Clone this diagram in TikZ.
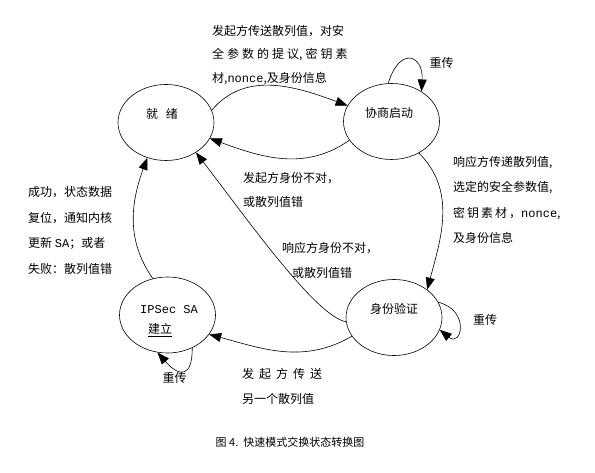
\documentclass[tikz,border=0pt]{standalone}
\usepackage{fontspec}
\setmainfont{Noto Sans CJK SC}
\setmonofont{Liberation Mono}
\usetikzlibrary{arrows.meta,shapes.geometric}
\newcommand{\zgap}[1][3pt]{\hspace{#1}}
\tikzset{
  state/.style    = {draw, ellipse, minimum width=96pt, minimum height=76pt,
                     inner sep=0pt, line width=0.6pt},
  trans/.style    = {-{Triangle[length=12pt,width=9pt]}, line width=0.6pt},
  note/.style     = {font=\fontsize{12}{25.5}\selectfont, align=left,
                     anchor=west, inner sep=0pt},
  statetxt/.style = {font=\fontsize{12}{20}\selectfont, inner sep=0pt},
  retry/.style    = {font=\fontsize{12}{14}\selectfont, inner sep=0pt},
}

\begin{document}
\begin{tikzpicture}[x=1pt,y=1pt]
  \useasboundingbox (0,0) rectangle (595,472);
  \node[state] (ready) at (166,349.5) {};
  \node[state] (nego)  at (391.5,350.5) {};
  \node[state] (auth)  at (394,154.5) {};
  \node[state] (sa)    at (167.5,157) {};
  \node[statetxt] (readytxt) at (162,358) {就\zgap[8pt]绪};
  \node[statetxt] (negotxt)  at (389,359) {协商启动};
  \node[statetxt] (authtxt)  at (394,163) {身份验证};
  \node[statetxt, align=left, anchor=west] (satxt) at (140,151)
    {\texttt{IPSec SA}\\\hspace*{8pt}\underline{建立}};
  \draw[trans] (ready.15) to[out=50, in=160] (nego.160);
  \draw[trans] (nego.204) to[out=215, in=-20] (ready.-20);
  \draw[trans] (nego.95) .. controls +(12,38) and +(2,36) .. (nego.45);
  \draw[trans] (nego.-49) to[out=-45, in=75] (auth.40);
  \draw[trans] (auth.19) .. controls +(32,-8) and +(22,-18) .. (auth.-15);
  \draw[trans] (auth.204) to[out=210, in=-15] (sa.-25);
  \draw[trans] (sa.307) .. controls +(0,-30) and +(22,-25) .. (sa.255);
  \draw[trans] (sa.112) to[out=125, in=250] (ready.242);
  \draw[trans] (auth.185) .. controls +(-30,5) and +(50,-65) .. (ready.-45);
  \node[note, font=\fontsize{12}{23.2}\selectfont] (toptxt) at (212,417)
    {发起方传送散列值，对安\\
     全\zgap 参\zgap 数\zgap 的\zgap 提\zgap 议,\zgap 密\zgap 钥\zgap 素\\
     材,\texttt{nonce},及身份信息};
  \node[note] (righttxt) at (453,272)
    {响应方传递散列值,\\
     选定的安全参数值,\\
     密\zgap[2pt]钥\zgap[2pt]素\zgap[2pt]材\zgap[2pt]，\texttt{nonce},\\
     及身份信息};
  \node[note] (lefttxt) at (28,241.5)
    {成功，状态数据\\
     复位，通知内核\\
     更新 \texttt{SA}；或者\\
     失败：散列值错};
  \node[note, font=\fontsize{12}{24}\selectfont] (initerr) at (243,282)
    {发起方身份不对，\\或散列值错};
  \node[note, font=\fontsize{12}{25}\selectfont] (resperr) at (282,211.5)
    {响应方身份不对，\\\hspace*{10pt}或散列值错};
  \node[note, font=\fontsize{12}{25}\selectfont] (bottxt) at (242,86)
    {发\zgap[5pt]起\zgap[5pt]方\zgap[5pt]传\zgap[5pt]送\\另一个散列值};
  \node[retry] (retrynego) at (441.5,409) {重传};
  \node[retry] (retryauth) at (485,152) {重传};
  \node[retry] (retrysa)   at (174.5,94) {重传};
  \node[font=\fontsize{11}{13}\selectfont, inner sep=0pt] (caption) at (290,30)
    {图 4.\ \ 快速模式交换状态转换图};
\end{tikzpicture}
\end{document}
